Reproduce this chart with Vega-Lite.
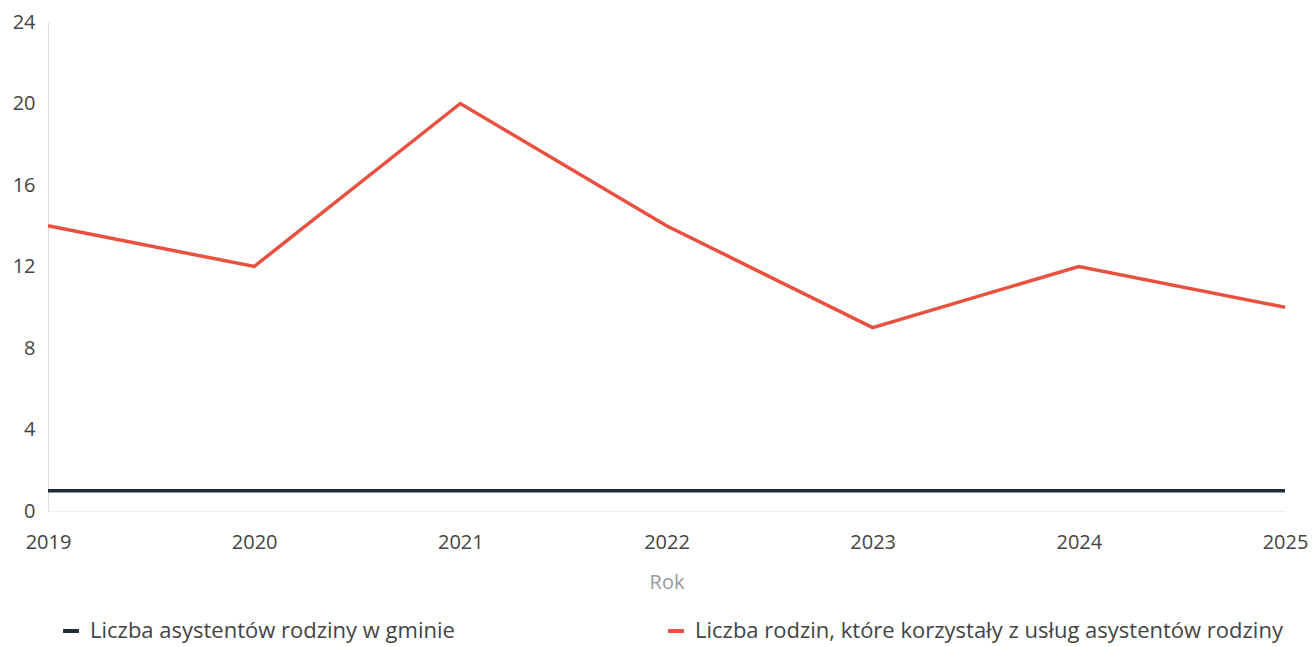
{
  "$schema": "https://vega.github.io/schema/vega-lite/v6.json",
  "autosize": "none",
  "width": 1237,
  "height": 489,
  "padding": {"left": 48, "top": 22, "right": 27, "bottom": 136},
  "background": "white",
  "config": {
    "font": "Open Sans",
    "view": {"stroke": null}
  },
  "data": {
    "values": [
      {"rok": "2019", "seria": "Liczba asystentów rodziny w gminie", "wartosc": 1},
      {"rok": "2020", "seria": "Liczba asystentów rodziny w gminie", "wartosc": 1},
      {"rok": "2021", "seria": "Liczba asystentów rodziny w gminie", "wartosc": 1},
      {"rok": "2022", "seria": "Liczba asystentów rodziny w gminie", "wartosc": 1},
      {"rok": "2023", "seria": "Liczba asystentów rodziny w gminie", "wartosc": 1},
      {"rok": "2024", "seria": "Liczba asystentów rodziny w gminie", "wartosc": 1},
      {"rok": "2025", "seria": "Liczba asystentów rodziny w gminie", "wartosc": 1},
      {"rok": "2019", "seria": "Liczba rodzin, które korzystały z usług asystentów rodziny", "wartosc": 14},
      {"rok": "2020", "seria": "Liczba rodzin, które korzystały z usług asystentów rodziny", "wartosc": 12},
      {"rok": "2021", "seria": "Liczba rodzin, które korzystały z usług asystentów rodziny", "wartosc": 20},
      {"rok": "2022", "seria": "Liczba rodzin, które korzystały z usług asystentów rodziny", "wartosc": 14},
      {"rok": "2023", "seria": "Liczba rodzin, które korzystały z usług asystentów rodziny", "wartosc": 9},
      {"rok": "2024", "seria": "Liczba rodzin, które korzystały z usług asystentów rodziny", "wartosc": 12},
      {"rok": "2025", "seria": "Liczba rodzin, które korzystały z usług asystentów rodziny", "wartosc": 10}
    ]
  },
  "mark": {"type": "line", "strokeWidth": 3.5},
  "encoding": {
    "x": {
      "field": "rok",
      "type": "ordinal",
      "scale": {"type": "point", "padding": 0},
      "axis": {
        "title": "Rok",
        "titleFontSize": 20,
        "titleFontWeight": "normal",
        "titleColor": "#999999",
        "titlePadding": 20,
        "labelAngle": 0,
        "labelFontSize": 20,
        "labelColor": "#444444",
        "labelPadding": 21,
        "ticks": false,
        "domainColor": "#eeeeee",
        "grid": false
      }
    },
    "y": {
      "field": "wartosc",
      "type": "quantitative",
      "scale": {"domain": [0, 24]},
      "axis": {
        "title": null,
        "values": [0, 4, 8, 12, 16, 20, 24],
        "labelFontSize": 20,
        "labelColor": "#444444",
        "labelPadding": 13,
        "ticks": false,
        "grid": false,
        "domainColor": "#dddddd"
      }
    },
    "color": {
      "field": "seria",
      "type": "nominal",
      "scale": {
        "domain": ["Liczba asystentów rodziny w gminie", "Liczba rodzin, które korzystały z usług asystentów rodziny"],
        "range": ["#1e2d38", "#e8503f"]
      },
      "legend": {
        "title": null,
        "orient": "none",
        "legendX": 12,
        "legendY": 598,
        "direction": "horizontal",
        "columns": 2,
        "columnPadding": 205,
        "labelFontSize": 22,
        "labelColor": "#444444",
        "labelLimit": 800,
        "symbolType": "stroke",
        "symbolSize": 250,
        "symbolStrokeWidth": 4,
        "labelOffset": 8
      }
    }
  }
}
